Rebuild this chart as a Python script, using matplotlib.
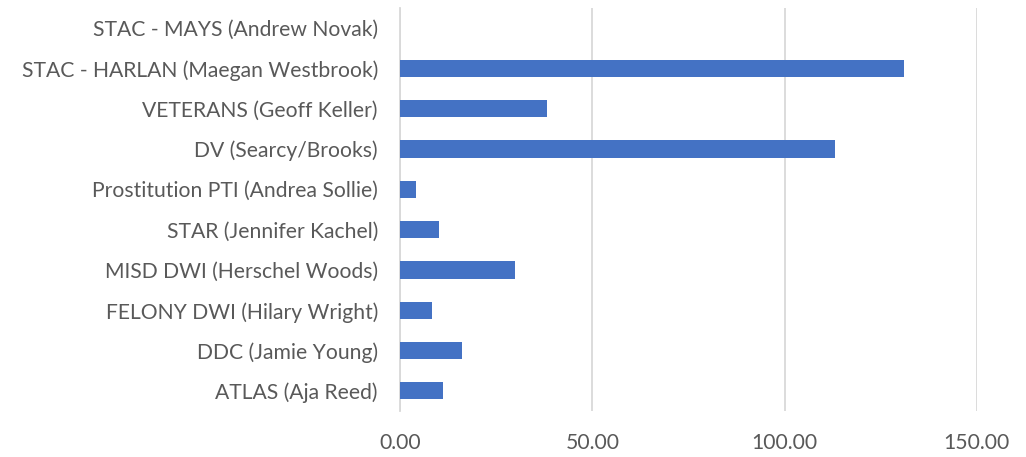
import numpy as np
import matplotlib
matplotlib.use("Agg")
import matplotlib.pyplot as plt
import matplotlib.ticker as ticker

# Dades (de baix a dalt, tal com surten a la gràfica)
categories = [
    "ATLAS (Aja Reed)",
    "DDC (Jamie Young)",
    "FELONY DWI (Hilary Wright)",
    "MISD DWI (Herschel Woods)",
    "STAR (Jennifer Kachel)",
    "Prostitution PTI (Andrea Sollie)",
    "DV (Searcy/Brooks)",
    "VETERANS (Geoff Keller)",
    "STAC - HARLAN (Maegan Westbrook)",
    "STAC - MAYS (Andrew Novak)",
]
valors = [11.1, 16.1, 8.2, 30.0, 10.1, 4.1, 113.0, 38.1, 131.1, 0.0]
x_ticks = [0, 50, 100, 150]

plt.rcParams['font.family'] = ['Lato', 'DejaVu Sans']

fig = plt.figure(figsize=(10.26, 4.57), dpi=100)
ax = fig.add_axes([0.390, 0.1007, 0.562, 0.8818])

y = np.arange(len(categories))
ax.barh(y, valors, height=0.43, color='#4472C4', zorder=3)

ax.set_ylim(-0.5, len(categories) - 0.5)
ax.set_xlim(0, 150)
ax.set_xticks(x_ticks)
ax.xaxis.set_major_formatter(ticker.FormatStrFormatter('%.2f'))
ax.set_yticks(y)
ax.set_yticklabels(categories)

ax.grid(True, axis='x', color='#D9D9D9', linewidth=1.3, zorder=0)
for s in ['top', 'right', 'bottom']:
    ax.spines[s].set_visible(False)
ax.spines['left'].set_color('#D9D9D9')
ax.spines['left'].set_linewidth(1.3)

ax.tick_params(axis='both', length=0, labelsize=15.2, colors='#595959')
ax.tick_params(axis='y', pad=16)
ax.tick_params(axis='x', pad=16)

plt.savefig('out.png', dpi=100)
